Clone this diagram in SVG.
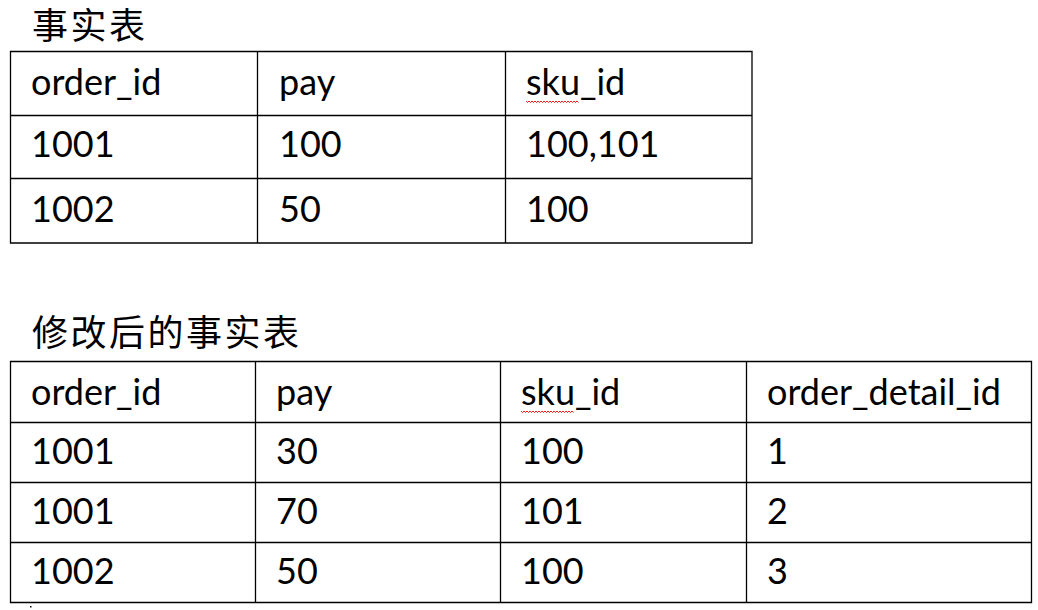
<svg xmlns="http://www.w3.org/2000/svg" width="1038" height="610" viewBox="0 0 1038 610">
<style>
.t{font-family:Lato,"Liberation Sans",sans-serif;font-size:36px;fill:#000}
.h{font-family:"Noto Sans CJK SC",sans-serif;font-size:36px;letter-spacing:2.5px;fill:#000}
.g{fill:none;stroke:#000;stroke-width:1.3}
.sq{fill:none;stroke:#e00;stroke-width:0.9}
</style>
<rect width="1038" height="610" fill="#fff"/>
<g id="title1"><text class="h" x="32" y="38.5">事实表</text></g>
<g id="table1">
<path class="g" d="M10.5 51.5H752V243H10.5Z M10.5 115.5H752 M10.5 178.5H752 M257.5 51.5V243 M505.5 51.5V243"/>
<text class="t" x="31" y="95">order_id</text>
<text class="t" x="279" y="95">pay</text>
<text class="t" x="526" y="95">sku_id</text>
<path class="sq" d="M526 101l1.5 1.5l1.5-1.5l1.5 1.5l1.5-1.5l1.5 1.5l1.5-1.5l1.5 1.5l1.5-1.5l1.5 1.5l1.5-1.5l1.5 1.5l1.5-1.5l1.5 1.5l1.5-1.5l1.5 1.5l1.5-1.5l1.5 1.5l1.5-1.5l1.5 1.5l1.5-1.5l1.5 1.5l1.5-1.5l1.5 1.5l1.5-1.5l1.5 1.5l1.5-1.5l1.5 1.5l1.5-1.5l1.5 1.5l1.5-1.5l1.5 1.5l1.5-1.5l1.5 1.5l1.5-1.5l1.5 1.5"/>
<text class="t" x="31" y="157">1001</text>
<text class="t" x="279" y="157">100</text>
<text class="t" x="526" y="157">100,101</text>
<text class="t" x="31" y="222">1002</text>
<text class="t" x="279" y="222">50</text>
<text class="t" x="526" y="222">100</text>
</g>
<g id="title2"><text class="h" x="32" y="346">修改后的事实表</text></g>
<g id="table2">
<path class="g" d="M10.5 361.5H1031.5V602.5H10.5Z M10.5 422.5H1031.5 M10.5 482.5H1031.5 M10.5 542.5H1031.5 M255.5 361.5V602.5 M500.5 361.5V602.5 M746.5 361.5V602.5"/>
<text class="t" x="31" y="405">order_id</text>
<text class="t" x="276" y="405">pay</text>
<text class="t" x="521" y="405">sku_id</text>
<text class="t" x="767" y="405">order_detail_id</text>
<path class="sq" d="M521 411l1.5 1.5l1.5-1.5l1.5 1.5l1.5-1.5l1.5 1.5l1.5-1.5l1.5 1.5l1.5-1.5l1.5 1.5l1.5-1.5l1.5 1.5l1.5-1.5l1.5 1.5l1.5-1.5l1.5 1.5l1.5-1.5l1.5 1.5l1.5-1.5l1.5 1.5l1.5-1.5l1.5 1.5l1.5-1.5l1.5 1.5l1.5-1.5l1.5 1.5l1.5-1.5l1.5 1.5l1.5-1.5l1.5 1.5l1.5-1.5l1.5 1.5l1.5-1.5l1.5 1.5l1.5-1.5l1.5 1.5"/>
<text class="t" x="31" y="464">1001</text>
<text class="t" x="276" y="464">30</text>
<text class="t" x="521" y="464">100</text>
<text class="t" x="767" y="464">1</text>
<text class="t" x="31" y="524">1001</text>
<text class="t" x="276" y="524">70</text>
<text class="t" x="521" y="524">101</text>
<text class="t" x="767" y="524">2</text>
<text class="t" x="31" y="584">1002</text>
<text class="t" x="276" y="584">50</text>
<text class="t" x="521" y="584">100</text>
<text class="t" x="767" y="584">3</text>
</g>
<rect x="30" y="606" width="1.5" height="1.5" fill="#000"/>
</svg>
